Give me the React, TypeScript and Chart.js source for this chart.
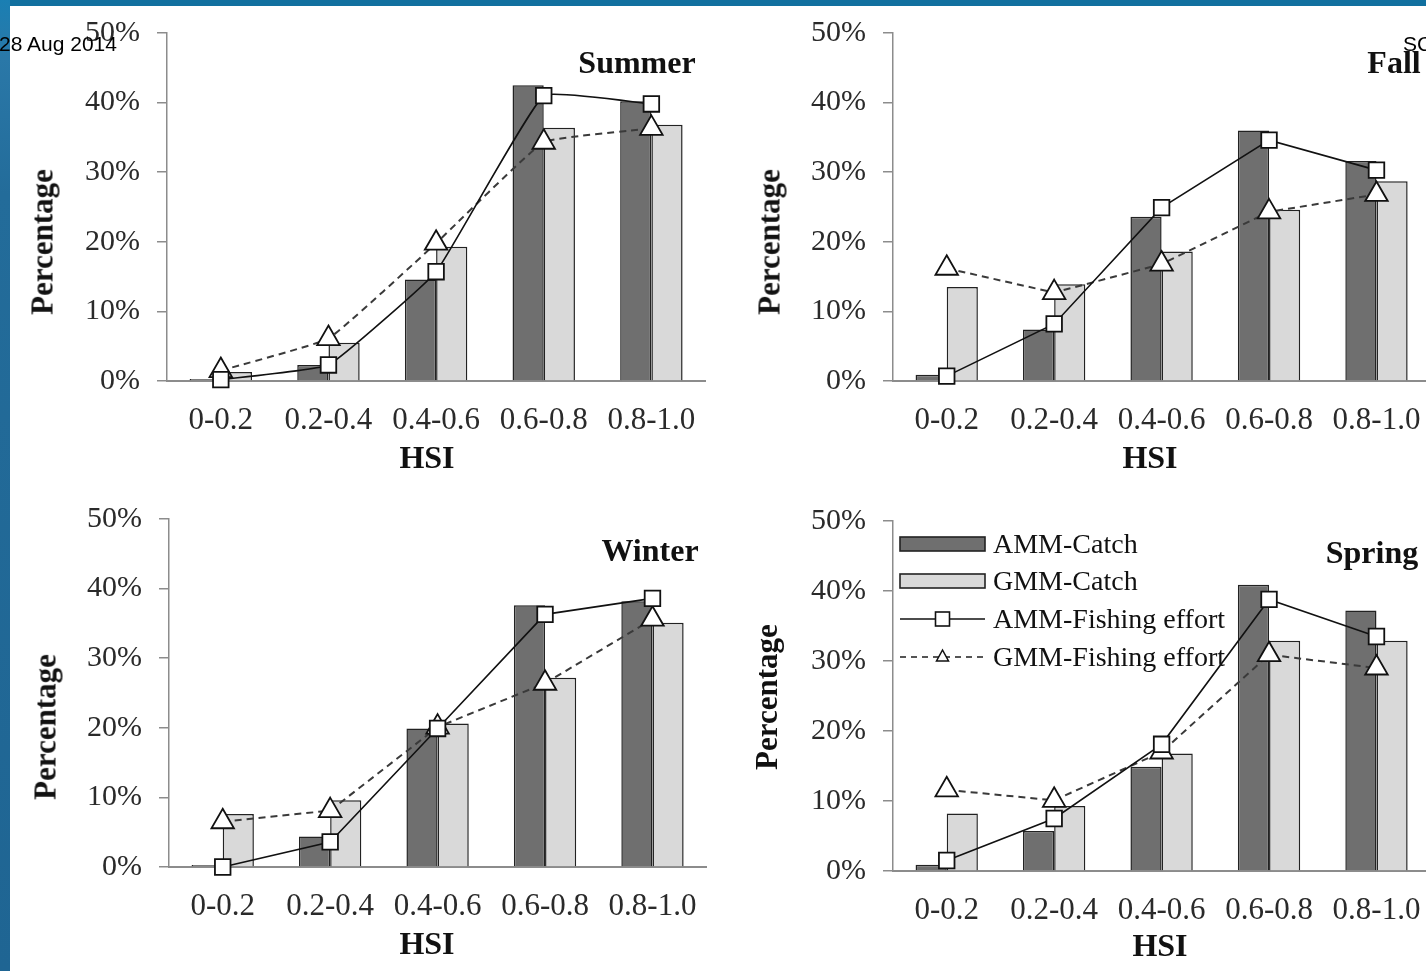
import React, { useEffect, useRef } from "react";
import { Chart, registerables } from "chart.js";

Chart.register(...registerables);

// ---------- data ----------
const categories = ["0-0.2", "0.2-0.4", "0.4-0.6", "0.6-0.8", "0.8-1.0"];
const yTickValues = [0, 10, 20, 30, 40, 50];
const seriesNames = ["AMM-Catch", "GMM-Catch", "AMM-Fishing effort", "GMM-Fishing effort"];

const summerAmmCatch = [0.3, 2.3, 14.6, 42.5, 40.2];
const summerGmmCatch = [1.3, 5.5, 19.3, 36.4, 36.8];
const summerAmmEffort = [0.2, 2.3, 15.7, 41.0, 39.8];
const summerGmmEffort = [1.5, 6.1, 19.8, 34.3, 36.3];

const fallAmmCatch = [0.9, 7.4, 23.6, 36.0, 31.6];
const fallGmmCatch = [13.5, 13.9, 18.6, 24.6, 28.7];
const fallAmmEffort = [0.7, 8.2, 24.9, 34.6, 30.3];
const fallGmmEffort = [16.2, 12.7, 16.8, 24.3, 26.8];

const winterAmmCatch = [0.3, 4.4, 19.9, 37.6, 38.2];
const winterGmmCatch = [7.6, 9.6, 20.6, 27.2, 35.1];
const winterAmmEffort = [0, 3.6, 19.9, 36.3, 38.6];
const winterGmmEffort = [6.5, 8.1, 20.1, 26.4, 35.6];

const springAmmCatch = [0.9, 5.7, 14.9, 40.9, 37.2];
const springGmmCatch = [8.2, 9.3, 16.8, 32.9, 32.9];
const springAmmEffort = [1.5, 7.5, 18.1, 38.8, 33.5];
const springGmmEffort = [11.6, 10.1, 17.0, 30.9, 29.0];

// ---------- layout ----------
const SERIF = "'Liberation Serif', 'Times New Roman', serif";
const SANS = "'Liberation Sans', Arial, sans-serif";
const PAD_TOP = 24;
const Y_W = 150;
const X_H = 60;
const PAD_RIGHT = 4;

type PanelCfg = {
  name: string;
  plot: { left: number; top: number; right: number; bottom: number };
  ammCatch: number[];
  gmmCatch: number[];
  ammEffort: number[];
  gmmEffort: number[];
  tension: number;
  nameAt: [number, number];
  hsiAt: [number, number];
  pctAt: [number, number];
};

const panels: PanelCfg[] = [
  {
    name: "Summer",
    plot: { left: 167, top: 33, right: 705, bottom: 381 },
    ammCatch: summerAmmCatch,
    gmmCatch: summerGmmCatch,
    ammEffort: summerAmmEffort,
    gmmEffort: summerGmmEffort,
    tension: 0.1,
    nameAt: [637, 62],
    hsiAt: [427, 457],
    pctAt: [45, 242],
  },
  {
    name: "Fall",
    plot: { left: 893, top: 33, right: 1430, bottom: 381 },
    ammCatch: fallAmmCatch,
    gmmCatch: fallGmmCatch,
    ammEffort: fallAmmEffort,
    gmmEffort: fallGmmEffort,
    tension: 0,
    nameAt: [1394, 62],
    hsiAt: [1150, 457],
    pctAt: [772, 242],
  },
  {
    name: "Winter",
    plot: { left: 169, top: 519, right: 706, bottom: 867 },
    ammCatch: winterAmmCatch,
    gmmCatch: winterGmmCatch,
    ammEffort: winterAmmEffort,
    gmmEffort: winterGmmEffort,
    tension: 0,
    nameAt: [650, 550],
    hsiAt: [427, 943],
    pctAt: [48, 727],
  },
  {
    name: "Spring",
    plot: { left: 893, top: 521, right: 1430, bottom: 871 },
    ammCatch: springAmmCatch,
    gmmCatch: springGmmCatch,
    ammEffort: springAmmEffort,
    gmmEffort: springGmmEffort,
    tension: 0,
    nameAt: [1372, 552],
    hsiAt: [1160, 945],
    pctAt: [769, 697],
  },
];

const DARK = "#6f6f6f";
const LIGHT = "#d9d9d9";
const AXIS = "#8c8c8c";

function makeConfig(cfg: PanelCfg): any {
  return {
    type: "bar",
    data: {
      labels: categories,
      datasets: [
        {
          type: "line",
          label: seriesNames[2],
          data: cfg.ammEffort,
          borderColor: "#111",
          borderWidth: 1.6,
          tension: cfg.tension,
          pointStyle: "rect",
          pointRadius: 11,
          pointBackgroundColor: "#fff",
          pointBorderColor: "#111",
          pointBorderWidth: 1.8,
          order: 0,
          clip: false,
        },
        {
          type: "line",
          label: seriesNames[3],
          data: cfg.gmmEffort,
          borderColor: "#3a3a3a",
          borderWidth: 2,
          borderDash: [7, 5],
          tension: cfg.tension,
          pointStyle: "triangle",
          pointRadius: 13,
          pointBackgroundColor: "#fff",
          pointBorderColor: "#111",
          pointBorderWidth: 1.8,
          order: 1,
          clip: false,
        },
        {
          type: "bar",
          label: seriesNames[0],
          data: cfg.ammCatch,
          backgroundColor: DARK,
          borderColor: "#222",
          borderWidth: 1.5,
          categoryPercentage: 0.58,
          barPercentage: 1,
          order: 2,
        },
        {
          type: "bar",
          label: seriesNames[1],
          data: cfg.gmmCatch,
          backgroundColor: LIGHT,
          borderColor: "#222",
          borderWidth: 1.5,
          categoryPercentage: 0.58,
          barPercentage: 1,
          order: 3,
        },
      ],
    },
    options: {
      responsive: false,
      animation: false,
      devicePixelRatio: 1,
      layout: { padding: { top: PAD_TOP, right: PAD_RIGHT, left: 0, bottom: 0 } },
      plugins: { legend: { display: false }, tooltip: { enabled: false }, title: { display: false } },
      scales: {
        x: {
          type: "category",
          offset: true,
          grid: { display: false, drawTicks: false },
          border: { display: true, color: AXIS, width: 2 },
          ticks: {
            font: { family: SERIF, size: 31 },
            color: "#2a2a2a",
            padding: 21,
            autoSkip: false,
            maxRotation: 0,
            minRotation: 0,
          },
          afterFit: (s: any) => {
            s.height = X_H;
          },
        },
        y: {
          type: "linear",
          min: yTickValues[0],
          max: yTickValues[yTickValues.length - 1],
          grid: { drawOnChartArea: false, drawTicks: true, tickLength: 10, color: AXIS, lineWidth: 1.5 },
          border: { display: true, color: AXIS, width: 1.5 },
          ticks: {
            stepSize: 10,
            font: { family: SERIF, size: 30 },
            color: "#2a2a2a",
            padding: 17,
            callback: (v: any) => v + "%",
          },
          afterFit: (s: any) => {
            s.width = Y_W;
          },
        },
      },
    },
  };
}

function Panel({ cfg }: { cfg: PanelCfg }) {
  const ref = useRef<HTMLCanvasElement>(null);
  const { plot } = cfg;
  const left = plot.left - Y_W;
  const top = plot.top - PAD_TOP;
  const width = plot.right - plot.left + Y_W + PAD_RIGHT;
  const height = plot.bottom - plot.top + PAD_TOP + X_H;

  useEffect(() => {
    const canvas = ref.current as HTMLCanvasElement;
    let chart = new Chart(canvas, makeConfig(cfg));
    const ca = chart.chartArea;
    const dl = ca.left - Y_W;
    const dt = ca.top - PAD_TOP;
    const dr = width - PAD_RIGHT - ca.right;
    const db = height - X_H - ca.bottom;
    if (Math.abs(dl) + Math.abs(dt) + Math.abs(dr) + Math.abs(db) > 0.5) {
      chart.destroy();
      const nl = left - dl;
      const nt = top - dt;
      const nw = Math.round(width + dl + dr);
      const nh = Math.round(height + dt + db);
      canvas.width = nw;
      canvas.height = nh;
      canvas.style.left = nl + "px";
      canvas.style.top = nt + "px";
      canvas.style.width = nw + "px";
      canvas.style.height = nh + "px";
      chart = new Chart(canvas, makeConfig(cfg));
    }
    return () => chart.destroy();
  }, []);

  const textBase: React.CSSProperties = {
    position: "absolute",
    fontFamily: SERIF,
    fontWeight: "bold",
    lineHeight: 1,
    whiteSpace: "nowrap",
    color: "#111",
  };

  return (
    <>
      <canvas
        ref={ref}
        width={width}
        height={height}
        style={{ position: "absolute", left, top, width, height }}
      />
      <div
        style={{
          ...textBase,
          fontSize: 32,
          left: cfg.nameAt[0],
          top: cfg.nameAt[1],
          transform: "translate(-50%, -50%)",
        }}
      >
        {cfg.name}
      </div>
      <div
        style={{
          ...textBase,
          fontSize: 32,
          left: cfg.hsiAt[0],
          top: cfg.hsiAt[1],
          transform: "translate(-50%, -50%)",
        }}
      >
        HSI
      </div>
      <div
        style={{
          ...textBase,
          fontSize: 31,
          left: cfg.pctAt[0] - 3,
          top: cfg.pctAt[1],
          transform: "translate(-50%, -50%) rotate(-90deg)",
        }}
      >
        Percentage
      </div>
    </>
  );
}

function Legend() {
  const x0 = 900;
  const x1 = 985;
  const rows = [544, 581, 619, 657];
  const textStyle: React.CSSProperties = {
    position: "absolute",
    left: 993,
    fontFamily: SERIF,
    fontSize: 28,
    lineHeight: 1,
    whiteSpace: "nowrap",
    color: "#111",
    transform: "translateY(-50%)",
  };
  const mid = (x0 + x1) / 2;
  return (
    <>
      <svg
        width={1426}
        height={971}
        style={{ position: "absolute", left: 0, top: 0, pointerEvents: "none" }}
      >
        <rect x={x0} y={rows[0] - 7} width={x1 - x0} height={14} fill={DARK} stroke="#222" strokeWidth={1.6} />
        <rect x={x0} y={rows[1] - 7} width={x1 - x0} height={14} fill={LIGHT} stroke="#222" strokeWidth={1.6} />
        <line x1={x0} y1={rows[2]} x2={x1} y2={rows[2]} stroke="#111" strokeWidth={1.6} />
        <rect x={mid - 7} y={rows[2] - 7} width={14} height={14} fill="#fff" stroke="#111" strokeWidth={1.6} />
        <line x1={x0} y1={rows[3]} x2={x1} y2={rows[3]} stroke="#555" strokeWidth={2} strokeDasharray="6 5" />
        <polygon
          points={`${mid},${rows[3] - 7} ${mid - 6},${rows[3] + 4} ${mid + 6},${rows[3] + 4}`}
          fill="#fff"
          stroke="#111"
          strokeWidth={1.5}
        />
      </svg>
      {seriesNames.map((n, i) => (
        <div key={n} style={{ ...textStyle, top: rows[i] }}>
          {n}
        </div>
      ))}
    </>
  );
}

export default function App() {
  return (
    <div
      style={{
        position: "fixed",
        left: 0,
        top: 0,
        width: 1426,
        height: 971,
        overflow: "hidden",
        background: "#ffffff",
      }}
    >
      {panels.map((p) => (
        <Panel key={p.name} cfg={p} />
      ))}
      <Legend />
      <div
        style={{
          position: "absolute",
          left: 0,
          top: 0,
          width: 1426,
          height: 6,
          background: "#11709f",
        }}
      />
      <div
        style={{
          position: "absolute",
          left: 0,
          top: 0,
          width: 10,
          height: 971,
          background: "linear-gradient(to bottom, #1a7fb3 0%, #2a78a8 6%, #236c9a 20%, #1f6593 100%)",
        }}
      />
      <div
        style={{
          position: "absolute",
          left: -1,
          top: 33,
          fontFamily: SANS,
          fontSize: 21,
          lineHeight: 1,
          color: "#000",
          whiteSpace: "nowrap",
        }}
      >
        28 Aug 2014
      </div>
      <div
        style={{
          position: "absolute",
          left: 1403,
          top: 33,
          fontFamily: SANS,
          fontSize: 21,
          lineHeight: 1,
          color: "#000",
          whiteSpace: "nowrap",
        }}
      >
        SC
      </div>
    </div>
  );
}
